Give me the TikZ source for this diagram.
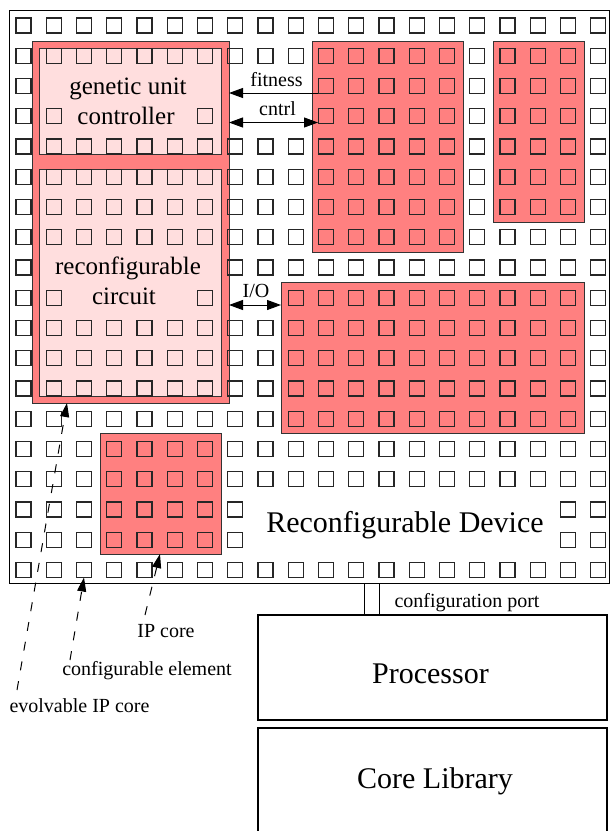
\documentclass[tikz,border=0pt]{standalone}
\usepackage{fontspec}
\setmainfont{Liberation Serif}
\usetikzlibrary{arrows.meta}
\definecolor{corered}{RGB}{255,128,128}
\definecolor{corepink}{RGB}{255,222,222}
\begin{document}
\begin{tikzpicture}[x=1pt,y=-1pt,
  box/.style={draw=black,line width=1pt,anchor=north west,inner sep=0pt,outer sep=0pt},
  region/.style={box,fill=corered,draw=black!80,line width=1pt},
  innerbox/.style={box,fill=corepink,draw=black!80,line width=1pt},
  cell/.style={draw=black!85,line width=1.3pt},
  lbl/.style={font=\fontsize{20}{24}\selectfont,anchor=base,inner sep=0pt},
  midlbl/.style={font=\fontsize{25}{30}\selectfont,anchor=base,inner sep=0pt},
  biglbl/.style={font=\fontsize{30}{36}\selectfont,anchor=base,inner sep=0pt},
  tip/.style={-{Triangle[length=14pt,width=10pt]},line width=1pt},
  dtip/.style={{Triangle[length=14pt,width=10pt]}-{Triangle[length=14pt,width=10pt]},line width=1pt},
  lead/.style={-{Triangle[length=14pt,width=9pt]},line width=1pt,dash pattern=on 9pt off 11pt},
]
\useasboundingbox (0,0) rectangle (610,831);
\fill[white] (0,0) rectangle (610,831);

% reconfigurable device
\node[box,minimum width=600pt,minimum height=573pt] (dev) at (9,10) {};

% cores
\node[region,minimum width=197pt,minimum height=362pt] (evo) at (32,41) {};
\node[innerbox,minimum width=182pt,minimum height=106pt] (gen) at (39,48) {};
\node[innerbox,minimum width=182pt,minimum height=227pt] (rec) at (39,169) {};
\node[region,minimum width=151pt,minimum height=211pt] (ra) at (312,41) {};
\node[region,minimum width=91pt,minimum height=181pt] (rb) at (493,41) {};
\node[region,minimum width=303pt,minimum height=151pt] (rc) at (281,282) {};
\node[region,minimum width=121pt,minimum height=121pt] (ipc) at (100,433) {};

% configurable elements
\foreach \r in {0,...,18}{
  \foreach \c in {0,...,19}{
    \pgfmathtruncatemacro{\hid}{((\r==2||\r==3)&&(\c>6)&&(\c<10))||((\r==9)&&(\c>6)&&(\c<9))||((\r==2||\r==8)&&(\c>0)&&(\c<7))||((\r==3||\r==9)&&(\c>1)&&(\c<6))||((\r==16||\r==17)&&(\c>7)&&(\c<18))}
    \ifnum\hid=0
      \draw[cell] ({16+30.25*\c},{18+30.25*\r}) rectangle ++(15,15);
    \fi
  }
}
\coordinate (elem) at ({16+30.25*2+7.5},{18+30.25*18+15});

% texts inside
\node[midlbl] (tgen1) at (128,94) {genetic unit};
\node[midlbl] (tgen2) at (126,124) {controller};
\node[midlbl] (trec1) at (128,274) {reconfigurable};
\node[midlbl] (trec2) at (124,304) {circuit};
\node[biglbl] (tdev) at (405,532) {Reconfigurable Device};

% signals
\coordinate (fitR) at (318,93);
\coordinate (ctlR) at (318,122.5);
\draw[tip] (fitR) -- (evo.east |- fitR);
\draw[dtip] (evo.east |- ctlR) -- (ctlR);
\node[lbl] (tfit) at (276.5,86) {fitness};
\node[lbl] (tctl) at (277.5,115) {cntrl};
\coordinate (ioY) at (0,305);
\draw[dtip] (evo.east |- ioY) -- (rc.west |- ioY);
\node[lbl] (tio) at (256,297) {I/O};

% processor and library
\node[box,line width=1.2pt,minimum width=349pt,minimum height=105pt] (proc) at (258,615) {};
\node[biglbl] (tproc) at (430.5,683) {Processor};
\node[box,line width=1.2pt,minimum width=349pt,minimum height=112pt] (lib) at (258,728) {};
\node[biglbl] (tlib) at (435,788) {Core Library};

% configuration port
\coordinate (pa) at (364,0);
\coordinate (pb) at (379,0);
\draw[line width=1pt] (dev.south -| pa) -- (proc.north -| pa);
\draw[line width=1pt] (dev.south -| pb) -- (proc.north -| pb);
\node[lbl] (tport) at (467,607) {configuration port};

% legend leaders
\coordinate (sEvo) at (17,690);
\coordinate (sElem) at (70,660);
\coordinate (sIp) at (145,615);
\coordinate (xEvo) at (67,0);
\coordinate (xIp) at (160,0);
\draw[lead] (sEvo) -- (evo.south -| xEvo);
\draw[lead] (sElem) -- (elem);
\draw[lead] (sIp) -- (ipc.south -| xIp);
\node[lbl] (tip1) at (166,637) {IP core};
\node[lbl] (tip2) at (147,675) {configurable element};
\node[lbl] (tip3) at (79.5,712.5) {evolvable IP core};
\end{tikzpicture}
\end{document}
